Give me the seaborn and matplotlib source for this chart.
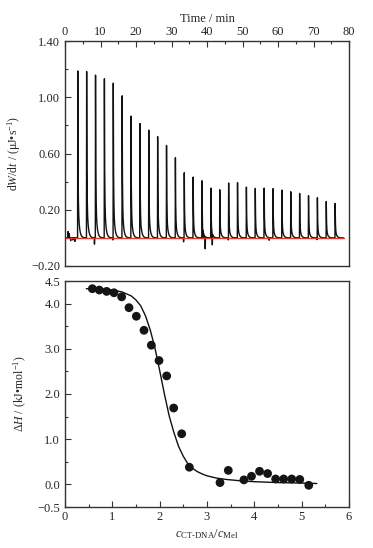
import numpy as np
import pandas as pd
import matplotlib
matplotlib.use("Agg")
import matplotlib.pyplot as plt
import seaborn as sns

# ---------------- data ----------------
# raw ITC thermogram: injection times (min) and peak heights (uJ/s)
inj_times = [3.6 + 2.5 * i for i in range(30)]
peak_heights = [1.187, 1.183, 1.157, 1.131, 1.100, 1.010, 0.866, 0.813, 0.766, 0.719,
                0.657, 0.570, 0.463, 0.432, 0.406, 0.354, 0.342, 0.390, 0.392, 0.361,
                0.352, 0.354, 0.350, 0.340, 0.328, 0.316, 0.300, 0.286, 0.259, 0.245]
# small baseline glitches (time, value)
glitch_times = [0.9, 1.2, 1.6, 2.2, 2.8, 8.3, 13.5, 21.4, 33.4, 38.8, 39.5, 41.5, 46.0, 57.5, 66.2, 71.0]
glitch_values = [0.046, 0.030, -0.020, -0.015, -0.025, -0.045, -0.015, -0.020, -0.028,
                 -0.080, -0.085, -0.080, -0.015, -0.018, -0.015, -0.012]

# integrated heats
ratio = [0.578, 0.725, 0.880, 1.035, 1.197, 1.352, 1.507, 1.669, 1.824, 1.986, 2.148,
         2.296, 2.465, 2.627, 3.275, 3.450, 3.780, 3.940, 4.110, 4.280, 4.450, 4.620,
         4.790, 4.960, 5.150]
dH = [4.33, 4.30, 4.27, 4.24, 4.15, 3.91, 3.72, 3.41, 3.08, 2.74, 2.40,
      1.69, 1.12, 0.38, 0.04, 0.31, 0.10, 0.18, 0.29, 0.24, 0.12, 0.12,
      0.12, 0.11, -0.02]

# fitted curve
fit_x = [0.45, 0.8, 1.0, 1.2, 1.4, 1.5, 1.6, 1.7, 1.8, 1.9, 2.0, 2.1, 2.2, 2.3, 2.4,
         2.5, 2.6, 2.7, 2.8, 2.9, 3.0, 3.2, 3.4, 3.7, 4.0, 4.5, 5.0, 5.32]
fit_y = [4.33, 4.32, 4.30, 4.26, 4.17, 4.08, 3.95, 3.73, 3.42, 3.02, 2.52, 2.00, 1.52,
         1.15, 0.84, 0.62, 0.45, 0.35, 0.28, 0.23, 0.19, 0.14, 0.11, 0.08, 0.06, 0.04,
         0.03, 0.02]

baseline_range = [0.2, 78.6]

# ---------------- build thermogram ----------------
t = np.round(np.arange(0.2, 78.5, 0.01), 4)
sig = np.zeros_like(t)
for ti, h in zip(inj_times, peak_heights):
    dt = t - ti
    rise = (dt >= -0.06) & (dt < 0)
    sig[rise] += h * (dt[rise] + 0.06) / 0.06
    dec = dt >= 0
    sig[dec] += h * (0.72 * np.exp(-dt[dec] / 0.07) + 0.28 * np.exp(-dt[dec] / 0.33))
for tg, g in zip(glitch_times, glitch_values):
    sig += g * np.clip(1 - np.abs(t - tg) / 0.08, 0, None)
trace = pd.DataFrame({"time": t, "power": sig})
base = pd.DataFrame({"time": baseline_range, "power": [0.0, 0.0]})
pts = pd.DataFrame({"ratio": ratio, "dH": dH})
fit = pd.DataFrame({"ratio": fit_x, "dH": fit_y})

# ---------------- style ----------------
sns.set_theme(style="ticks")
plt.rcParams["font.family"] = ["Liberation Serif", "DejaVu Serif"]
plt.rcParams["mathtext.fontset"] = "custom"
plt.rcParams["mathtext.rm"] = "Liberation Serif"
plt.rcParams["mathtext.it"] = "Liberation Serif:italic"
plt.rcParams["mathtext.bf"] = "Liberation Serif:bold"
plt.rcParams["axes.unicode_minus"] = True

fig = plt.figure(figsize=(3.73, 5.48), dpi=100)
W, H = 373, 548
def rect(l, t_, r, b):
    return [l / W, 1 - b / H, (r - l) / W, (b - t_) / H]

ax1 = fig.add_axes(rect(65, 41, 349, 266))
ax2 = fig.add_axes(rect(65, 281, 349, 507))

spine_c = "#333333"
for ax in (ax1, ax2):
    for s in ax.spines.values():
        s.set_visible(True)
        s.set_color(spine_c)
        s.set_linewidth(1.0)

# top panel
sns.lineplot(data=trace, x="time", y="power", ax=ax1, color="#111111", lw=1.0,
             estimator=None, sort=False)
sns.lineplot(data=base, x="time", y="power", ax=ax1, color="#e03a2e", lw=1.0,
             estimator=None)
ax1.set_xlim(0, 80)
ax1.set_ylim(-0.20, 1.40)
ax1.xaxis.tick_top()
ax1.xaxis.set_label_position("top")
ax1.set_xticks(np.arange(0, 81, 10))
ax1.set_xticks(np.arange(5, 80, 10), minor=True)
ax1.set_yticks([-0.2, 0.2, 0.6, 1.0, 1.4])
ax1.set_yticklabels(["\u22120.20", "0.20", "0.60", "1.00", "1.40"])
ax1.set_yticks([0.0, 0.4, 0.8, 1.2], minor=True)
ax1.set_xlabel("Time / min", fontsize=9, labelpad=3)
ax1.set_ylabel(r"d$W$/d$t$ / (μJ•s$^{-1}$)", fontsize=8.5, labelpad=6)
ax1.tick_params(axis="both", which="both", direction="in", labelsize=9, color=spine_c,
                right=False, bottom=False)
ax1.tick_params(which="major", length=4, width=0.8)
ax1.tick_params(which="minor", length=2.5, width=0.8)
ax1.tick_params(axis="x", pad=2)

# bottom panel
sns.lineplot(data=fit, x="ratio", y="dH", ax=ax2, color="#111111", lw=1.0,
             estimator=None, sort=False)
sns.scatterplot(data=pts, x="ratio", y="dH", ax=ax2, color="#151515", s=40,
                edgecolor="none", zorder=3)
ax2.set_xlim(0, 6)
ax2.set_ylim(-0.5, 4.5)
ax2.set_xticks(range(7))
ax2.set_xticks(np.arange(0.5, 6, 1), minor=True)
ax2.set_yticks([-0.5, 0, 1, 2, 3, 4, 4.5])
ax2.set_yticklabels(["\u22120.5", "0.0", "1.0", "2.0", "3.0", "4.0", "4.5"])
ax2.set_yticks([0.5, 1.5, 2.5, 3.5], minor=True)
ax2.set_xlabel(r"$c_{\text{CT-DNA}}/c_{\text{Mel}}$", fontsize=9, labelpad=3)
ax2.set_ylabel(r"Δ$H$ / (kJ•mol$^{-1}$)", fontsize=8.5, labelpad=6)
ax2.tick_params(axis="both", which="both", direction="in", labelsize=9, color=spine_c,
                right=False, top=False)
ax2.tick_params(which="major", length=4, width=0.8)
ax2.tick_params(which="minor", length=2.5, width=0.8)
ax2.tick_params(axis="x", pad=3)

fig.savefig("out.png", dpi=100)
